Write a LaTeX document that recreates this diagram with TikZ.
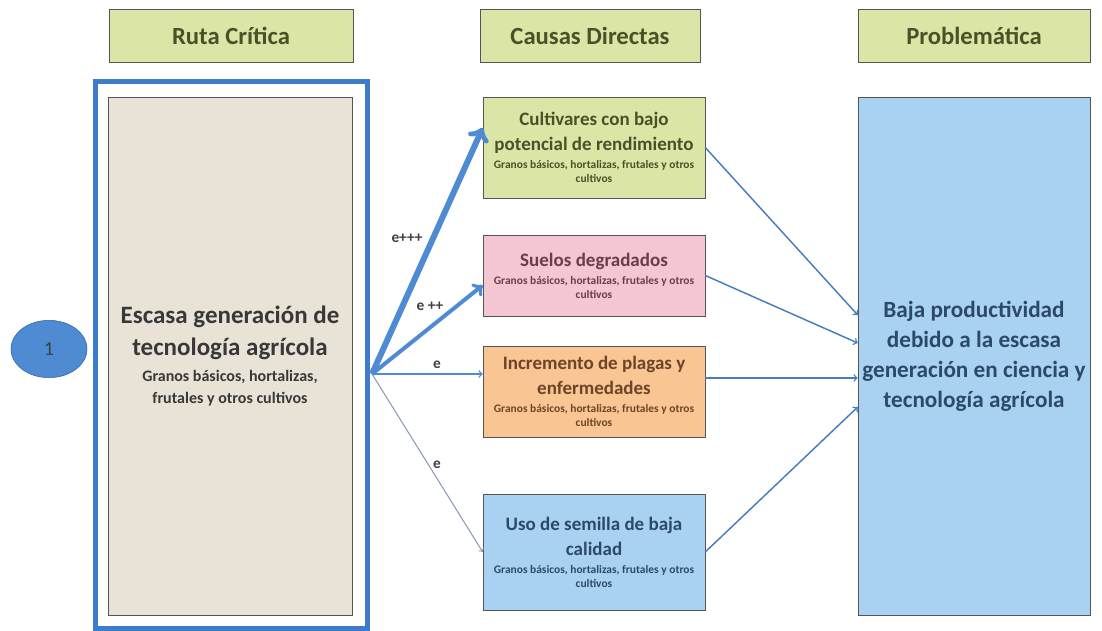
\documentclass[tikz,border=0pt]{standalone}
\usepackage{fontspec}
\setmainfont{Carlito}
\usepackage{tikz}
\usetikzlibrary{calc,shapes.geometric}
\usepackage{xcolor}

\definecolor{verdecla}{HTML}{DAE5A6}
\definecolor{textoverde}{HTML}{4A5128}
\definecolor{beige}{HTML}{E8E3D6}
\definecolor{rosa}{HTML}{F3C6D1}
\definecolor{textorosa}{HTML}{6E3B4B}
\definecolor{naranja}{HTML}{F8C593}
\definecolor{textonaranja}{HTML}{6D4428}
\definecolor{celeste}{HTML}{A9D1F2}
\definecolor{textoceleste}{HTML}{2C4A68}
\definecolor{azulmarco}{HTML}{3D7CC9}
\definecolor{azulflecha}{HTML}{4E8BD3}
\definecolor{grisazul}{HTML}{8C9DB5}
\definecolor{borde}{HTML}{555555}

\newcommand{\titulo}{\fontsize{14.25}{18.75}\selectfont}
\newcommand{\chica}{\fontsize{8.6}{10.5}\selectfont}

\begin{document}
\begin{tikzpicture}[x=0.75pt,y=-0.75pt,font=\bfseries,
  encabezado/.style={draw=borde,fill=verdecla,text=textoverde,minimum width=183pt,minimum height=39.75pt,font=\bfseries\fontsize{18.5}{21}\selectfont},
  caja/.style={draw=borde,align=flush center,inner xsep=1pt},
  causa/.style={caja,minimum width=166.5pt,text width=162pt},
  flecha/.style={->,draw=azulflecha},
  flecha2/.style={->,draw=azulflecha!90!black,line width=1.1pt},
  etiqueta/.style={text=black!75,font=\bfseries\fontsize{11.5}{13}\selectfont}]
\useasboundingbox (0,0) rectangle (1102,631);

% encabezados
\node[encabezado] (ruta) at (231,36) {Ruta Crítica};
\node[encabezado,minimum width=165pt] (causas) at (590,36) {Causas Directas};
\node[encabezado,minimum width=174pt] (problema) at (974,36) {Problemática};

% ruta critica
\node[draw=azulmarco,line width=3.75pt,minimum width=204pt,minimum height=409.5pt] (marco) at (231,355) {};
\node[caja,fill=beige,text=black!78,minimum width=183pt,minimum height=388.5pt,text width=177pt] (escasa) at (230,356)
  {{\fontsize{18.75}{24}\selectfont Escasa generación de\\ tecnología agrícola\par}\vspace{2.5pt}
   {\fontsize{12}{17}\selectfont Granos básicos, hortalizas,\\ frutales y otros cultivos\par}};
\node[ellipse,draw=azulmarco!80!black,fill=azulflecha,text=black!75,minimum width=57pt,minimum height=43pt,
  font=\fontsize{15}{18}\selectfont] (uno) at (49,349) {1};

% causas directas
\node[causa,fill=verdecla,text=textoverde,minimum height=75.75pt] (c1) at (594,147.5)
  {{\titulo Cultivares con bajo\\ potencial de rendimiento\par}\vspace{3pt}
   {\chica Granos básicos, hortalizas, frutales y otros\\ cultivos\par}};
\node[causa,fill=rosa,text=textorosa,minimum height=60.75pt] (c2) at (594,275.5)
  {{\titulo Suelos degradados\par}\vspace{3pt}
   {\chica Granos básicos, hortalizas, frutales y otros\\ cultivos\par}};
\node[causa,fill=naranja,text=textonaranja,minimum height=68.25pt] (c3) at (594,391.5)
  {{\titulo Incremento de plagas y\\ enfermedades\par}\vspace{3pt}
   {\chica Granos básicos, hortalizas, frutales y otros\\ cultivos\par}};
\node[causa,fill=celeste,text=textoceleste,minimum height=87pt] (c4) at (594,552)
  {{\titulo Uso de semilla de baja\\ calidad\par}\vspace{3pt}
   {\chica Granos básicos, hortalizas, frutales y otros\\ cultivos\par}};

% problematica
\node[caja,fill=celeste,text=textoceleste,minimum width=174pt,minimum height=388.5pt,text width=172pt,
  font=\bfseries\fontsize{17.4}{22.5}\selectfont] (prob) at (974,356)
  {Baja productividad\\ debido a la escasa\\ generación en ciencia y\\ tecnología agrícola};

% flechas de la ruta
\coordinate (fan) at (372,374);
\draw[flecha,line width=4.5pt] (fan) -- (c1.170);
\draw[flecha,line width=3pt] (fan) -- (c2.185);
\draw[flecha,line width=1.1pt] (fan) -- (fan -| c3.west);
\draw[flecha,line width=0.8pt,draw=grisazul] (fan) -- (c4.west);
\node[etiqueta] (e1) at (407,238) {e+++};
\node[etiqueta] (e2) at (430,306) {e ++};
\node[etiqueta] (e3) at (437,365) {e};
\node[etiqueta] (e4) at (437,465) {e};

% hacia la problematica
\coordinate (in1) at ($(prob.west)+(0,-41)$);
\coordinate (in2) at ($(prob.west)+(0,-13)$);
\coordinate (in3) at ($(prob.west)+(0,22)$);
\coordinate (in4) at ($(prob.west)+(0,51)$);
\draw[flecha2] (c1.east) -- (in1);
\draw[flecha2] (c2.east) -- (in2);
\draw[flecha2] (in3 -| c3.east) -- (in3);
\draw[flecha2] (c4.east) -- (in4);
\end{tikzpicture}
\end{document}
